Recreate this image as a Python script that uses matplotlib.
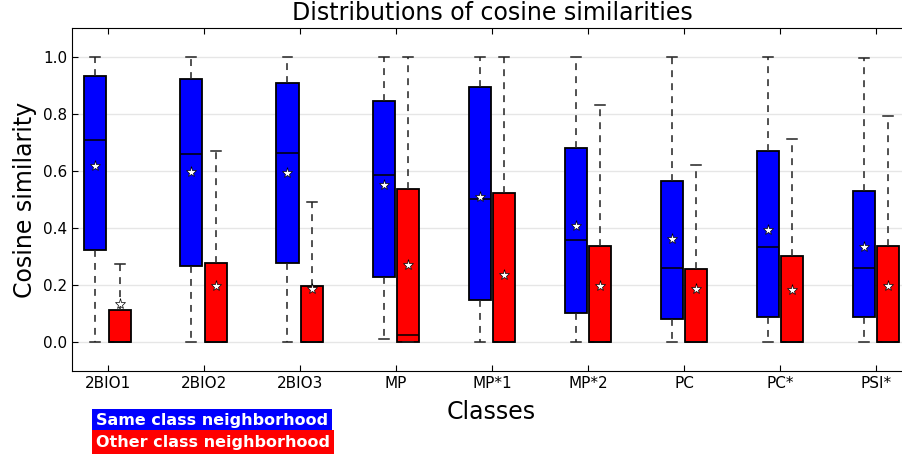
import numpy as np
import matplotlib
matplotlib.use('Agg')
import matplotlib.pyplot as plt

classes = ['2BIO1', '2BIO2', '2BIO3', 'MP', 'MP*1', 'MP*2', 'PC', 'PC*', 'PSI*']

# same class neighborhood
same_lo = [0.0, 0.0, 0.003, 0.012, 0.0, 0.0, 0.0, 0.0, 0.0]
same_q1 = [0.323, 0.268, 0.277, 0.230, 0.148, 0.102, 0.082, 0.090, 0.089]
same_med = [0.709, 0.658, 0.662, 0.585, 0.502, 0.357, 0.260, 0.333, 0.260]
same_q3 = [0.933, 0.921, 0.908, 0.846, 0.892, 0.679, 0.564, 0.668, 0.530]
same_hi = [1.0, 1.0, 1.0, 1.0, 1.0, 1.0, 1.0, 1.0, 0.995]
same_mean = [0.616, 0.597, 0.592, 0.549, 0.507, 0.406, 0.361, 0.393, 0.335]

# other class neighborhood
other_lo = [0.0, 0.0, 0.0, 0.0, 0.0, 0.0, 0.0, 0.0, 0.0]
other_q1 = [0.0, 0.0, 0.0, 0.0, 0.0, 0.0, 0.0, 0.0, 0.0]
other_med = [0.0, 0.0, 0.0, 0.027, 0.0, 0.0, 0.0, 0.0, 0.0]
other_q3 = [0.115, 0.277, 0.199, 0.535, 0.523, 0.339, 0.258, 0.303, 0.339]
other_hi = [0.275, 0.668, 0.493, 1.0, 1.0, 0.831, 0.619, 0.711, 0.791]
other_mean = [0.133, 0.199, 0.188, 0.272, 0.237, 0.199, 0.188, 0.183, 0.197]


def make_stats(lo, q1, med, q3, hi, mean):
    stats = []
    for a, b, c, d, e, m in zip(lo, q1, med, q3, hi, mean):
        stats.append(dict(whislo=a, q1=b, med=c, q3=d, whishi=e, mean=m, fliers=[]))
    return stats


def draw_boxes(ax, stats, pos, color):
    width = 0.23
    ax.bxp(stats, positions=pos, widths=width, capwidths=width * 0.45,
           patch_artist=True, showmeans=True, showfliers=False,
           boxprops=dict(facecolor=color, edgecolor='black', linewidth=1.3),
           medianprops=dict(color='black', linewidth=1.1),
           whiskerprops=dict(color='#222222', linewidth=1.1, linestyle=(0, (4.5, 4))),
           capprops=dict(color='#222222', linewidth=1.1),
           meanprops=dict(marker='*', markerfacecolor='white', markeredgecolor='black',
                          markeredgewidth=0.5, markersize=8))


fig = plt.figure(figsize=(9.03, 4.57), dpi=100)
ax = fig.add_axes([72 / 903, 86 / 457, 1 - 72 / 903, 343 / 457])

ind = np.arange(1, len(classes) + 1)
draw_boxes(ax, make_stats(same_lo, same_q1, same_med, same_q3, same_hi, same_mean), ind - 0.127, 'blue')
draw_boxes(ax, make_stats(other_lo, other_q1, other_med, other_q3, other_hi, other_mean), ind + 0.127, 'red')

ax.set_xlim(0.63, 9.28)
ax.set_ylim(-0.1, 1.1)
ax.set_xticks(ind)
ax.set_xticklabels(classes, fontsize=11)
ax.set_yticks(np.arange(0, 1.01, 0.2))
ax.set_yticklabels(['%.1f' % v for v in np.arange(0, 1.01, 0.2)], fontsize=11)
ax.yaxis.grid(True, color='#e6e6e6', linewidth=1)
ax.set_axisbelow(True)
ax.spines['right'].set_visible(False)
ax.tick_params(direction='in', length=4, top=True, right=False)

ax.set_title('Distributions of cosine similarities', fontsize=17, x=0.506)
ax.set_ylabel('Cosine similarity', fontsize=17)
ax.set_xlabel('Classes', fontsize=17)
ax.xaxis.set_label_coords(0.504, -0.085)

fig.text(96 / 903, 1 - 421 / 457, 'Same class neighborhood', color='white', fontsize=11.5,
         fontweight='bold', va='center', bbox=dict(facecolor='blue', edgecolor='none', pad=3))
fig.text(96 / 903, 1 - 442 / 457, 'Other class neighborhood', color='white', fontsize=11.5,
         fontweight='bold', va='center', bbox=dict(facecolor='red', edgecolor='none', pad=3))

plt.savefig('out.png', dpi=100)
plt.close()
